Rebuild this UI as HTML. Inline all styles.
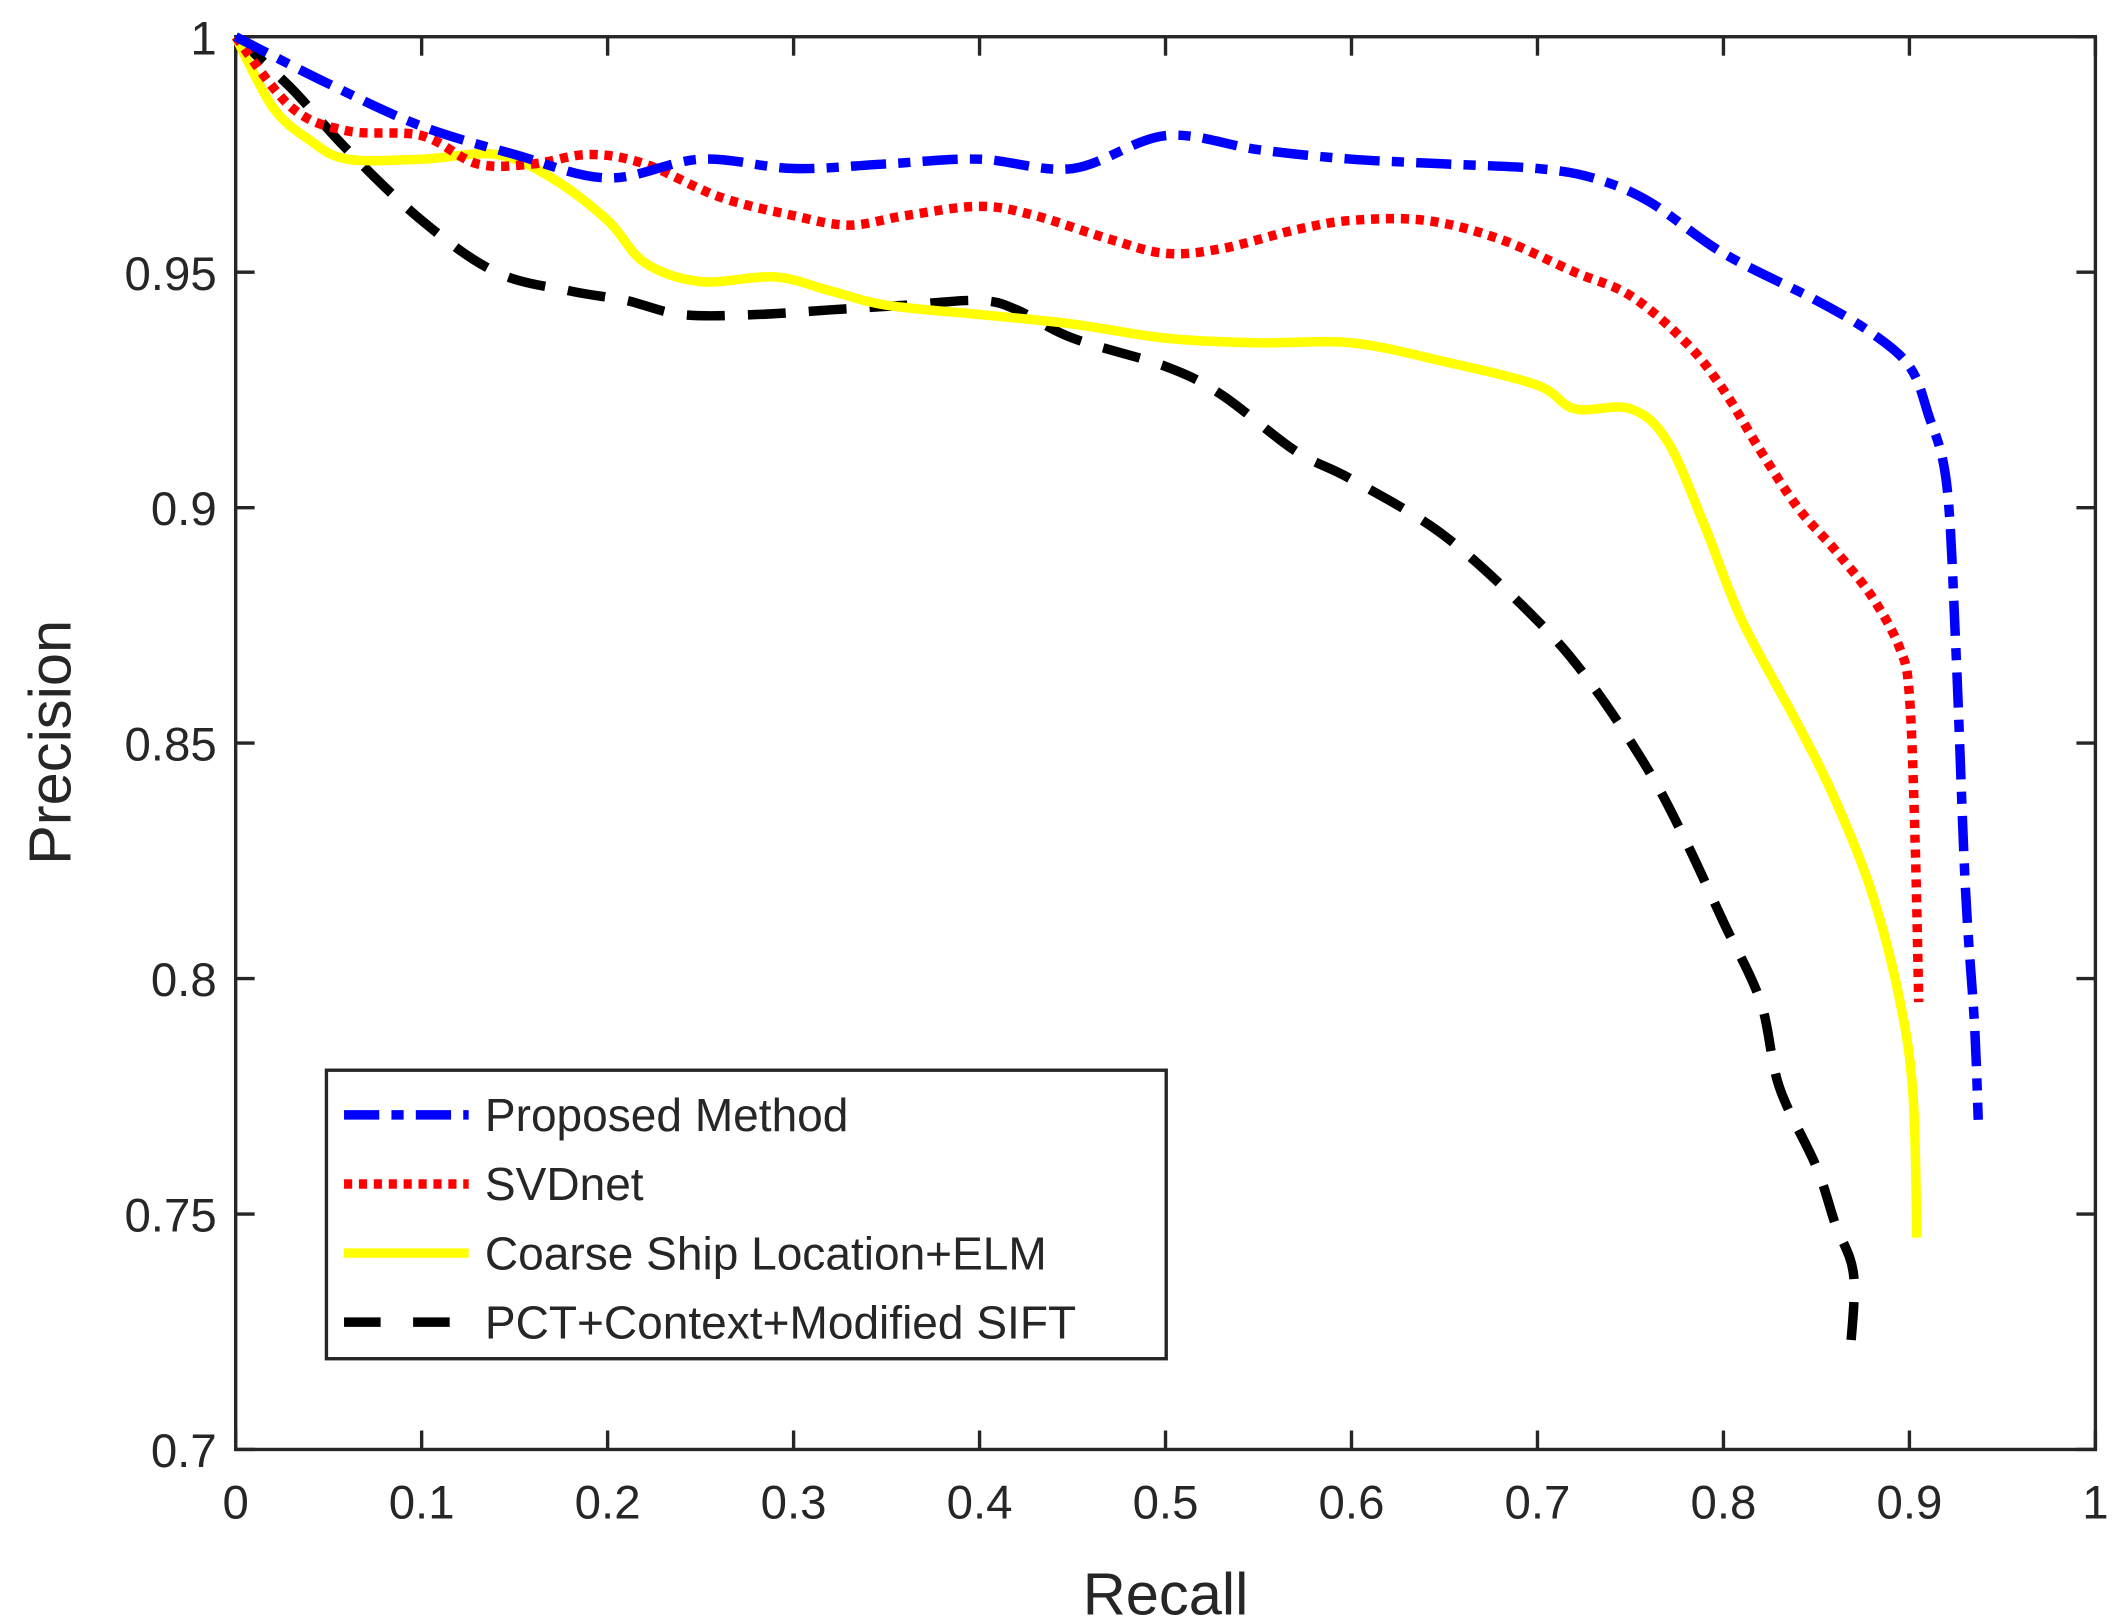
<!DOCTYPE html>
<html><head><meta charset="utf-8"><style>
html,body{margin:0;padding:0;background:#fff;}
svg{display:block;}
text{font-family:"Liberation Sans",Arial,sans-serif;fill:#262626;}
</style></head><body>
<svg id="chart" width="2113" height="1623" viewBox="0 0 1560 1198" xmlns="http://www.w3.org/2000/svg">
<g id="plot"></g>
</svg>
<script>
const xTicks=[0,0.1,0.2,0.3,0.4,0.5,0.6,0.7,0.8,0.9,1];
const xTickLabels=["0","0.1","0.2","0.3","0.4","0.5","0.6","0.7","0.8","0.9","1"];
const yTicks=[0.7,0.75,0.8,0.85,0.9,0.95,1];
const yTickLabels=["0.7","0.75","0.8","0.85","0.9","0.95","1"];
const seriesNames=["Proposed Method","SVDnet","Coarse Ship Location+ELM","PCT+Context+Modified SIFT"];
const proposedX=[0,0.05,0.1,0.15,0.2,0.25,0.3,0.35,0.4,0.45,0.5,0.55,0.6,0.65,0.7,0.73,0.76,0.8,0.85,0.88,0.9,0.91,0.92,0.925,0.93,0.935,0.937];
const proposedY=[1,0.99,0.981,0.975,0.970,0.974,0.972,0.973,0.974,0.972,0.979,0.976,0.974,0.973,0.972,0.970,0.965,0.954,0.944,0.937,0.93,0.92,0.905,0.87,0.82,0.79,0.77];
const svdX=[0,0.03,0.06,0.1,0.13,0.16,0.19,0.22,0.26,0.3,0.33,0.36,0.4,0.43,0.47,0.5,0.53,0.57,0.6,0.64,0.68,0.72,0.75,0.78,0.8,0.82,0.84,0.86,0.88,0.895,0.9,0.903,0.905];
const svdY=[1,0.985,0.98,0.979,0.973,0.973,0.975,0.973,0.966,0.962,0.960,0.962,0.964,0.962,0.957,0.954,0.955,0.959,0.961,0.961,0.957,0.950,0.945,0.935,0.925,0.912,0.9,0.891,0.881,0.87,0.86,0.83,0.795];
const elmX=[0,0.02,0.04,0.06,0.1,0.14,0.17,0.2,0.22,0.25,0.29,0.32,0.35,0.4,0.45,0.5,0.55,0.6,0.65,0.7,0.72,0.75,0.77,0.79,0.81,0.84,0.86,0.88,0.895,0.902,0.904];
const elmY=[1,0.985,0.978,0.974,0.974,0.975,0.970,0.961,0.952,0.948,0.949,0.946,0.943,0.941,0.939,0.936,0.935,0.935,0.931,0.926,0.921,0.921,0.914,0.896,0.876,0.854,0.838,0.818,0.795,0.775,0.745];
const pctX=[0,0.03,0.06,0.1,0.14,0.18,0.21,0.24,0.28,0.32,0.36,0.4,0.42,0.45,0.5,0.53,0.57,0.6,0.65,0.7,0.73,0.76,0.78,0.8,0.82,0.83,0.85,0.86,0.87,0.868];
const pctY=[1,0.989,0.976,0.961,0.950,0.946,0.944,0.941,0.941,0.942,0.943,0.944,0.942,0.936,0.930,0.924,0.912,0.906,0.894,0.876,0.862,0.844,0.829,0.812,0.795,0.777,0.760,0.748,0.737,0.72];

const L=174,R=1547,T=27,B=1070;
const xs=v=>L+v*(R-L);
const ys=v=>T+(1-v)/0.3*(B-T);
const NS="http://www.w3.org/2000/svg";
const g=document.getElementById('plot');
function mk(tag,attrs,parent){const e=document.createElementNS(NS,tag);for(const k in attrs)e.setAttribute(k,attrs[k]);(parent||g).appendChild(e);return e;}
function smooth(P){
  let d='M'+P[0][0].toFixed(1)+','+P[0][1].toFixed(1);
  for(let i=0;i<P.length-1;i++){
    const p0=P[Math.max(0,i-1)],p1=P[i],p2=P[i+1],p3=P[Math.min(P.length-1,i+2)];
    const c1=[p1[0]+(p2[0]-p0[0])/6,p1[1]+(p2[1]-p0[1])/6];
    const c2=[p2[0]-(p3[0]-p1[0])/6,p2[1]-(p3[1]-p1[1])/6];
    d+=' C'+c1[0].toFixed(1)+','+c1[1].toFixed(1)+' '+c2[0].toFixed(1)+','+c2[1].toFixed(1)+' '+p2[0].toFixed(1)+','+p2[1].toFixed(1);
  }
  return d;
}

const box=mk('rect',{x:L,y:T,width:R-L,height:B-T,fill:'none',stroke:'#262626','stroke-width':2.5});



xTicks.forEach((v,i)=>{
  const x=xs(v);
  const t1=mk('line',{x1:x,y1:B,x2:x,y2:B-14,stroke:'#262626','stroke-width':2.5});
  
  
  mk('line',{x1:x,y1:T,x2:x,y2:T+14,stroke:'#262626','stroke-width':2.5});
  const t=mk('text',{x:x,y:B+51,'font-size':35,'text-anchor':'middle'});
  t.textContent=xTickLabels[i];
  
  
});
yTicks.forEach((v,i)=>{
  const y=ys(v);
  const t1=mk('line',{x1:L,y1:y,x2:L+14,y2:y,stroke:'#262626','stroke-width':2.5});
  
  
  mk('line',{x1:R,y1:y,x2:R-14,y2:y,stroke:'#262626','stroke-width':2.5});
  const t=mk('text',{x:L-14,y:y+13,'font-size':35,'text-anchor':'end'});
  t.textContent=yTickLabels[i];
  
  
});
const xl=mk('text',{x:(L+R)/2,y:1192,'font-size':44,'text-anchor':'middle'});
xl.textContent='Recall';


const yl=mk('text',{x:0,y:0,'font-size':44,'text-anchor':'middle',transform:'translate(52,548) rotate(-90)'});
yl.textContent='Precision';



const styles=[
 {c:'#0000ff',d:'26 9 9 9'},
 {c:'#ff0000',d:'6 5'},
 {c:'#ffff00',d:''},
 {c:'#000000',d:'28 17'}
];
const data=[[proposedX,proposedY],[svdX,svdY],[elmX,elmY],[pctX,pctY]];
const names=['proposed-method-line','svdnet-line','coarse-ship-elm-line','pct-context-sift-line'];
for(let k=3;k>=0;k--){
  const [X,Y]=data[k];
  const P=X.map((x,i)=>[xs(x),ys(Y[i])]);
  const p=mk('path',{d:smooth(P),fill:'none',stroke:styles[k].c,'stroke-width':7,'stroke-linejoin':'round'});
  if(styles[k].d)p.setAttribute('stroke-dasharray',styles[k].d);
  
  
}

const lg=mk('g',{});


mk('rect',{x:241,y:790,width:620,height:213,fill:'#fff',stroke:'#262626','stroke-width':2.5},lg);
seriesNames.forEach((n,i)=>{
  const y=823+i*51;
  const ln=mk('line',{x1:254,y1:y,x2:346,y2:y,stroke:styles[i].c,'stroke-width':7},lg);
  if(styles[i].d)ln.setAttribute('stroke-dasharray',i==3?'27 24':styles[i].d);
  
  
  const t=mk('text',{x:358,y:y+12,'font-size':34},lg);
  t.textContent=n;
  
  
});
</script>
</body></html>
